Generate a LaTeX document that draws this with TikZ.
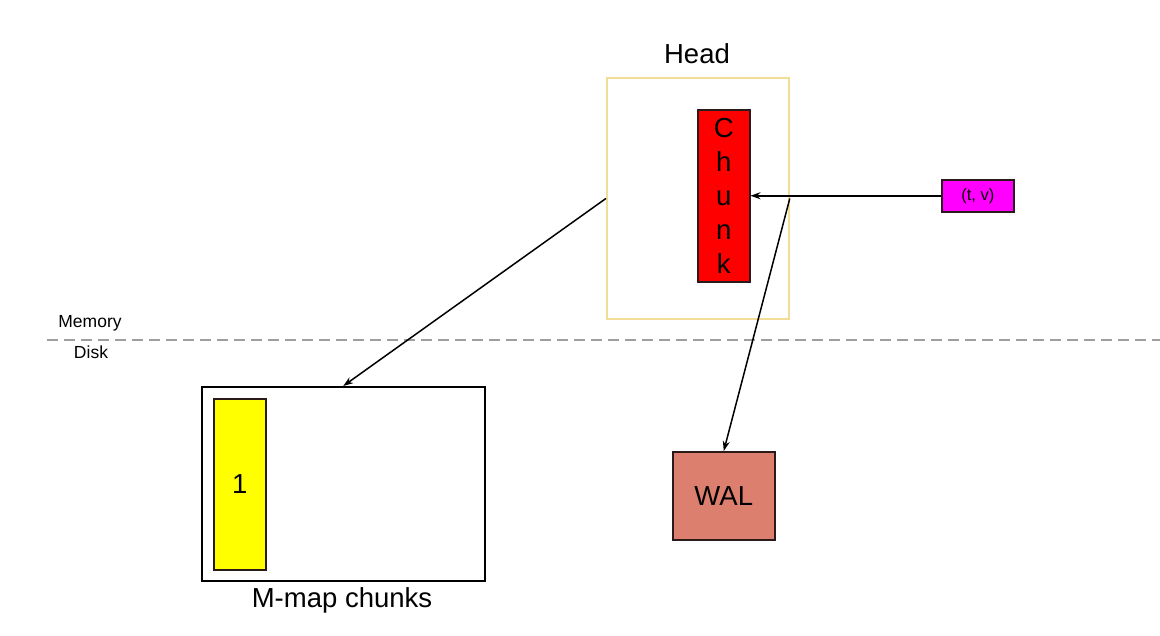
\documentclass[tikz,border=0pt]{standalone}
\usepackage{fontspec}
\setmainfont{Liberation Sans}
\usetikzlibrary{arrows.meta}
\definecolor{headborder}{HTML}{F2DC96}
\definecolor{walfill}{HTML}{DC7F6E}
\definecolor{boxborder}{HTML}{2A1A1A}
\definecolor{tvfill}{HTML}{FF00FF}
\definecolor{chunkfill}{HTML}{FF0000}
\definecolor{onefill}{HTML}{FFFF00}
\tikzset{
  box/.style={draw=boxborder, line width=1.5pt, inner sep=0pt, anchor=north west},
  big/.style={font=\fontsize{27.5}{34}\selectfont},
  conn/.style={line width=1.5pt, -{Stealth[length=10pt,width=7pt]}},
}
\begin{document}
\begin{tikzpicture}[x=1pt,y=-1pt]
\useasboundingbox (0,0) rectangle (1160,635);
% Head
\node[box, draw=headborder, line width=1.8pt, minimum width=182pt, minimum height=241pt] (head) at (606,77) {};
\node[big] (headlbl) at (697,54) {Head};
\node[box, fill=chunkfill, minimum width=52pt, minimum height=172pt] (chunk) at (697,109) {};
\node[big, align=center] (chunktxt) at (chunk.center) {C\\h\\u\\n\\k};
% (t, v)
\node[box, fill=tvfill, minimum width=72pt, minimum height=32pt, font=\fontsize{16.5}{18}\selectfont] (tv) at (941,179) {(t, v)};
% separator
\coordinate (sepL) at (47,340);
\coordinate (sepR) at (1160,340);
\draw[gray!75, line width=1.3pt, dash pattern=on 11pt off 6pt] (sepL) -- (sepR);
\node[font=\fontsize{17.5}{20}\selectfont] (mem) at (90,323) {Memory};
\node[font=\fontsize{17.5}{20}\selectfont] (disk) at (91,352) {Disk};
% M-map
\node[box, draw=black, minimum width=283pt, minimum height=194pt] (mmap) at (201,386) {};
\node[box, fill=onefill, minimum width=52pt, minimum height=171pt] (one) at (213,398) {};
\node[big] (onetxt) at (one.center) {1};
\node[big] (mmaplbl) at (342,600) {M-map chunks};
% WAL
\node[box, fill=walfill, minimum width=102pt, minimum height=88pt, big] (wal) at (672,451) {WAL};
% connectors
\draw[conn] (tv.west) -- (chunk.east);
\draw[conn] (head.east) -- (wal.north);
\draw[conn] (head.west) -- (mmap.north);
\end{tikzpicture}
\end{document}
